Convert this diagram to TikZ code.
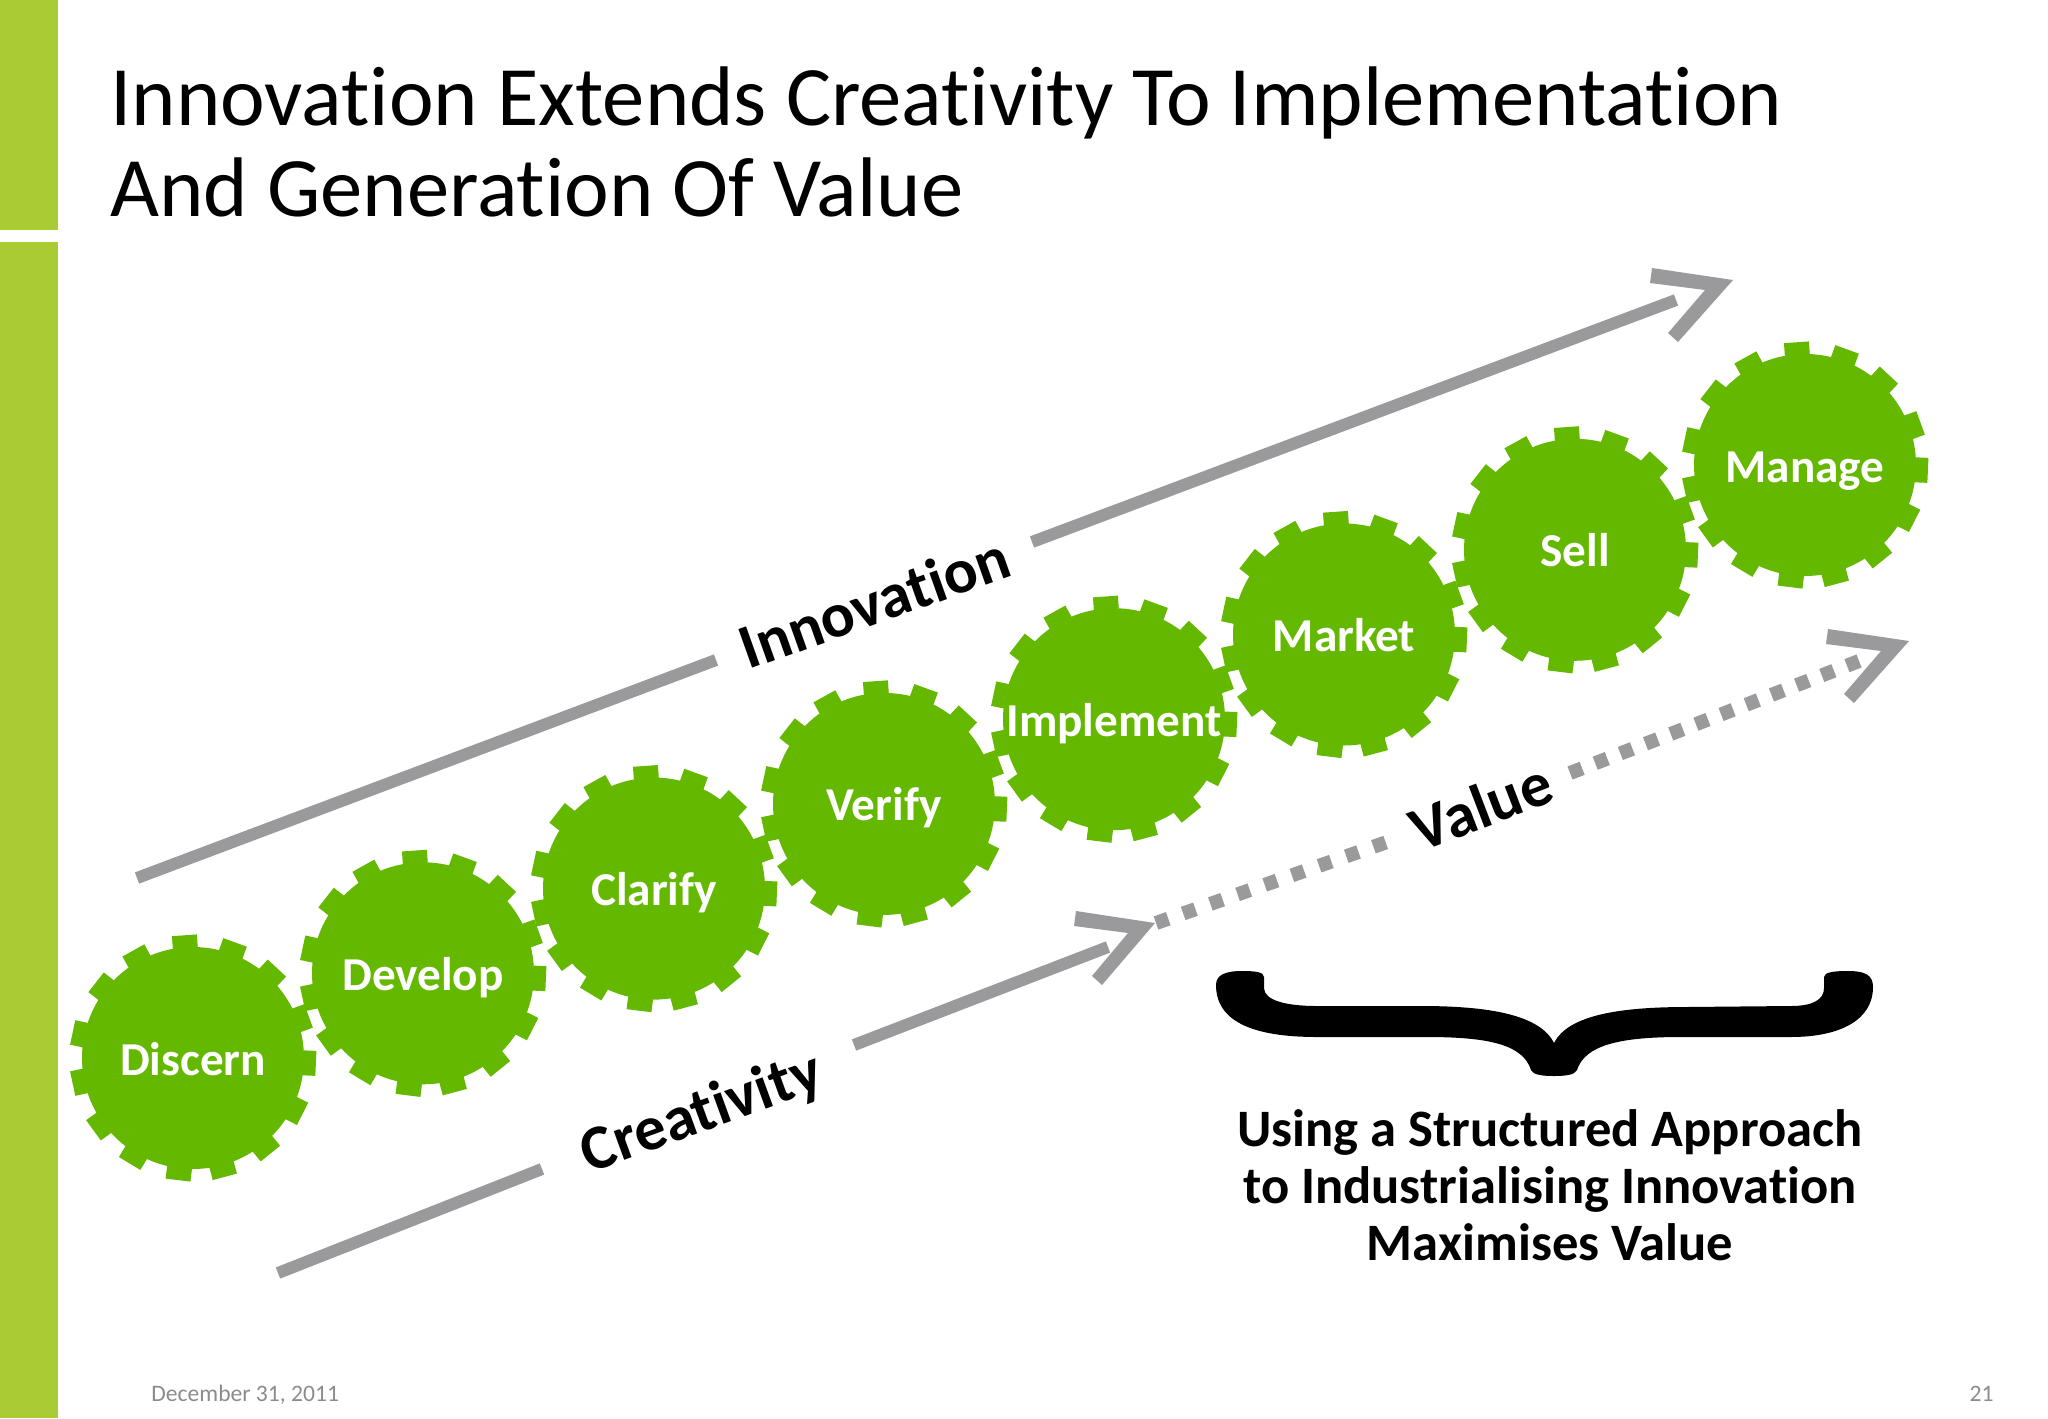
\documentclass[tikz,border=0pt]{standalone}
\usepackage{fontspec}
\setmainfont[RawFeature={-liga;-dlig}]{Carlito}
\definecolor{gearGreen}{HTML}{65B800}
\definecolor{barGreen}{HTML}{A9CC35}
\definecolor{arrowGrey}{HTML}{9A9A9C}
\definecolor{footGrey}{HTML}{8C8C8C}
\tikzset{
  gearbody/.style={circle,fill=gearGreen,inner sep=0pt,minimum size=111pt,text=white,
    font=\fontsize{23.6}{24}\selectfont\bfseries,text height=17pt,text depth=0pt},
  geartooth/.style={draw=gearGreen,line width=12.5pt,line cap=butt},
  shaft/.style={draw=arrowGrey,line width=6pt,line cap=butt},
  dotted shaft/.style={draw=arrowGrey,line width=7pt,line cap=butt,dash pattern=on 6.5pt off 7pt},
  chevron/.style={fill=arrowGrey,draw=none},
  slantlabel/.style={font=\fontsize{31.5}{32}\selectfont\bfseries,text=black,inner sep=0pt},
}
\begin{document}
\begin{tikzpicture}[x=0.5pt,y=-0.5pt]
\useasboundingbox (0,0) rectangle (2048,1418);
\fill[white] (0,0) rectangle (2048,1418);
% side bar
\fill[barGreen] (0,0) rectangle (58,230);
\fill[barGreen] (0,242) rectangle (58,1418);
% title
\node[anchor=base west,inner sep=0pt,align=left,font=\fontsize{42.3}{45.5}\selectfont] (title) at (110,216)
  {Innovation Extends Creativity To Implementation\\And Generation Of Value};
% gears
\foreach \n/\t/\gx/\gy in {discern/Discern/193/1058,develop/Develop/423/973.3,clarify/Clarify/654/888.6,
  verify/Verify/884/803.9,implement/Implement/1114/719.2,market/Market/1344/634.5,sell/Sell/1575/549.8,manage/Manage/1805/465}{
  \node[gearbody] (\n) at (\gx,\gy) {\t};
  \foreach \a in {-94,-70,-47,-20,2.5,27,51,75,97,121,144,168,192,218,241}
    \draw[geartooth] (\n.center) ++(\a:110) -- ++(\a:13);
}
% innovation arrow
\coordinate (ia) at (137,878);
\coordinate (ib) at (716,660);
\coordinate (ic) at (1032,542);
\coordinate (id) at (1676,300);
\draw[shaft] (ia) -- (ib);
\draw[shaft] (ic) -- (id);
\fill[chevron] (1652,268) -- (1733,280) -- (1678,342) -- (1668,333) -- (1705,290) -- (1650,283) -- cycle;
% creativity arrow
\coordinate (ca) at (278,1273);
\coordinate (cb) at (542,1169);
\coordinate (cc) at (854,1045);
\coordinate (cd) at (1108,947);
\draw[shaft] (ca) -- (cb);
\draw[shaft] (cc) -- (cd);
\fill[chevron] (1076,911) -- (1155,923) -- (1102,985) -- (1092,976) -- (1128,933) -- (1074,926) -- cycle;
% value arrow
\coordinate (va) at (1156,923);
\coordinate (vb) at (1387,842);
\coordinate (vc) at (1570,773);
\coordinate (vd) at (1859,661);
\draw[dotted shaft,dash pattern=on 6.5pt off 7.9pt] (va) -- (vb);
\draw[dotted shaft] (vc) -- (vd);
\fill[chevron] (1828,629) -- (1909,641) -- (1854,703) -- (1844,694) -- (1881,651) -- (1826,644) -- cycle;
% labels
\node[slantlabel,rotate=19.6] (innovation) at (874,602) {Innovation};
\node[slantlabel,rotate=20] (creativity) at (702,1114) {Creativity};
\node[slantlabel,rotate=21] (value) at (1481,806) {Value};
% brace
\fill[black] (1216,985)
  .. controls (1216,975) and (1225,971) .. (1242,971)
  .. controls (1255,971) and (1264,972) .. (1264,977)
  -- (1264,988)
  .. controls (1264,1000) and (1285,1006) .. (1317,1006)
  -- (1421,1006)
  .. controls (1490,1006) and (1540,1015) .. (1554,1043)
  .. controls (1568,1015) and (1620,1007) .. (1687,1007)
  -- (1791,1006)
  .. controls (1812,1006) and (1824,1000) .. (1824,988)
  -- (1824,977)
  .. controls (1824,972) and (1835,971) .. (1848,971)
  .. controls (1865,971) and (1873,975) .. (1873,987)
  .. controls (1873,1020) and (1840,1037) .. (1791,1037)
  -- (1681,1037)
  .. controls (1620,1037) and (1585,1045) .. (1577,1070)
  .. controls (1575,1075) and (1565,1076) .. (1554,1076)
  .. controls (1543,1076) and (1533,1075) .. (1531,1070)
  .. controls (1523,1045) and (1490,1037) .. (1427,1037)
  -- (1317,1037)
  .. controls (1250,1037) and (1216,1020) .. (1216,985) -- cycle;
% caption
\node[anchor=base,inner sep=0pt,align=center,font=\fontsize{26.3}{28.5}\selectfont\bfseries] (caption) at (1550,1260)
  {Using a Structured Approach\\to Industrialising Innovation\\Maximises Value};
% footer
\node[anchor=base west,inner sep=0pt,text=footGrey,font=\fontsize{11.8}{12}\selectfont] (date) at (151,1401) {December 31, 2011};
\node[anchor=base east,inner sep=0pt,text=footGrey,font=\fontsize{11.8}{12}\selectfont] (page) at (1994,1401) {21};
\end{tikzpicture}
\end{document}
